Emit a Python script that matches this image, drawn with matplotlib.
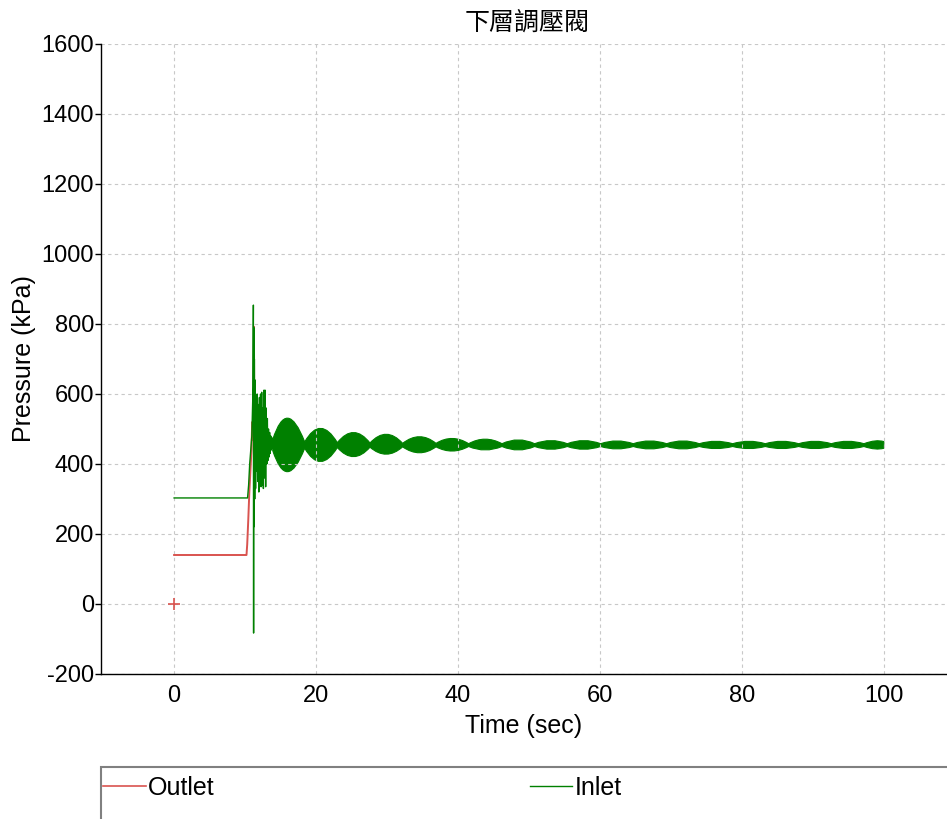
import numpy as np
import matplotlib
matplotlib.use("Agg")
import matplotlib.pyplot as plt
from matplotlib.path import Path
from matplotlib.patches import PathPatch, Rectangle
from matplotlib.lines import Line2D

plt.rcParams['font.family'] = ['Liberation Sans', 'Noto Sans CJK TC', 'DejaVu Sans']
plt.rcParams['axes.unicode_minus'] = False

# outlet (red) trace, start-up part (rest sits under the inlet trace)
outlet_t = [0, 10.2, 10.3, 10.45, 10.6, 10.75, 10.9, 11.0, 11.1, 11.2, 11.25, 11.3, 11.4, 11.5]
outlet_p = [140, 140, 170, 240, 320, 380, 440, 520, 470, 560, 792, 480, 430, 460]
start_t = [0]
start_p = [0]

# inlet (green) trace, transient read point by point
inlet_t = [0, 10.35, 10.5, 10.65, 10.8, 10.95, 11.05, 11.12, 11.17, 11.2,
           11.23, 11.27, 11.31, 11.36, 11.42, 11.48, 11.55, 11.62, 11.7, 11.78,
           11.86, 11.94, 12.02, 12.1, 12.18, 12.26, 12.34, 12.42, 12.5, 12.58,
           12.66, 12.74, 12.82, 12.9, 12.98, 13.06, 13.14, 13.22, 13.3, 13.38,
           13.46, 13.54, 13.62, 13.7, 13.78, 13.86, 13.9]
inlet_p = [303, 303, 340, 400, 440, 480, 560, 620, 854, -83,
           790, 221, 700, 300, 640, 330, 560, 380, 600, 350,
           570, 320, 590, 340, 600, 335, 605, 340, 560, 330,
           611, 360, 611, 335, 560, 400, 530, 410, 500, 420,
           490, 430, 480, 440, 475, 445, 465]

# inlet beating: envelope at the nodes and at the bulges
node_t = [13.9, 18.4, 23.0, 27.6, 32.2, 36.9, 41.5, 46.2, 50.8, 55.4,
          60.1, 64.7, 69.4, 74.0, 78.7, 83.3, 88.0, 92.6, 97.2, 100.0]
node_hi = [470, 463, 461, 460, 459, 459, 458, 458, 458, 458,
           458, 458, 458, 458, 458, 458, 458, 458, 458, 464]
node_lo = [438, 445, 447, 448, 449, 449, 450, 450, 450, 450,
           450, 450, 450, 450, 450, 450, 450, 450, 450, 445]
beat_t = [15.9, 20.6, 25.3, 29.9, 34.6, 39.2, 43.8, 48.5, 53.1, 57.7,
          62.4, 67.0, 71.7, 76.3, 81.0, 85.6, 90.3, 94.9, 98.9]
beat_hi = [531, 502, 490, 485, 478, 473, 471, 469, 467, 467,
           466, 466, 466, 465, 465, 465, 465, 465, 466]
beat_lo = [378, 407, 421, 428, 432, 437, 440, 440, 442, 442,
           443, 443, 443, 444, 444, 444, 444, 444, 443]

xticks = [0, 20, 40, 60, 80, 100]
yticks = [-200, 0, 200, 400, 600, 800, 1000, 1200, 1400, 1600]

red = '#d9534f'
green = '#008000'

fig = plt.figure(figsize=(9.47, 8.19), dpi=100, facecolor='white')
ax = fig.add_axes([101/947, 1-674/819, 846/947, 630/819])

ax.plot(outlet_t, outlet_p, color=red, linewidth=1.4)
ax.plot(start_t, start_p, '+', color=red, markersize=8, markeredgewidth=1.2)
ax.plot(inlet_t, inlet_p, color=green, linewidth=1.0)

# band of the beating oscillation (upper edge left->right, lower edge back)
verts = [(node_t[0], node_hi[0])]
codes = [Path.MOVETO]
for i in range(len(beat_t)):
    c = 2*beat_hi[i] - 0.5*(node_hi[i] + node_hi[i+1])
    verts += [(beat_t[i], c), (node_t[i+1], node_hi[i+1])]
    codes += [Path.CURVE3, Path.CURVE3]
verts.append((node_t[-1], node_lo[-1]))
codes.append(Path.LINETO)
for i in range(len(beat_t)-1, -1, -1):
    c = 2*beat_lo[i] - 0.5*(node_lo[i] + node_lo[i+1])
    verts += [(beat_t[i], c), (node_t[i], node_lo[i])]
    codes += [Path.CURVE3, Path.CURVE3]
verts.append(verts[0])
codes.append(Path.CLOSEPOLY)
ax.add_patch(PathPatch(Path(verts, codes), facecolor=green, edgecolor=green, linewidth=0.8))

ax.set_xlim(-10.3, 108.9)
ax.set_ylim(-200, 1600)
ax.set_xticks(xticks)
ax.set_yticks(yticks)
ax.tick_params(axis='both', labelsize=17)
ax.tick_params(axis='y', length=4, width=1, pad=1)
ax.tick_params(axis='x', length=0, pad=8)
ax.grid(True, color='#c8c8c8', linestyle=(0, (3, 3)), linewidth=0.8)
ax.spines['top'].set_visible(False)
ax.spines['right'].set_visible(False)
ax.spines['left'].set_linewidth(1.0)
ax.spines['bottom'].set_linewidth(1.0)

ax.set_xlabel('Time (sec)', fontsize=18, labelpad=5)
ax.set_ylabel('Pressure (kPa)', fontsize=18, labelpad=4)
fig.text(527/947, 1-23/819, '下層調壓閥', ha='center', va='center', fontsize=18,
         family=['Noto Sans CJK TC', 'DejaVu Sans'])

# legend box under the chart
fig.patches.append(Rectangle((101/947, -0.05), 0.95, 1-767/819+0.05, transform=fig.transFigure,
                             facecolor='white', edgecolor='#808080', linewidth=1.5))
handles = [Line2D([], [], color=red, linewidth=1.2), Line2D([], [], color=green, linewidth=1.0)]
fig.legend(handles, ['Outlet', 'Inlet'], loc='upper left',
           bbox_to_anchor=(103/947, 1-776/819), ncol=2,
           frameon=False, fontsize=18, handlelength=1.7, handletextpad=0.1, borderaxespad=0,
           borderpad=0, columnspacing=12.6)

fig.savefig('out.png', dpi=100)
